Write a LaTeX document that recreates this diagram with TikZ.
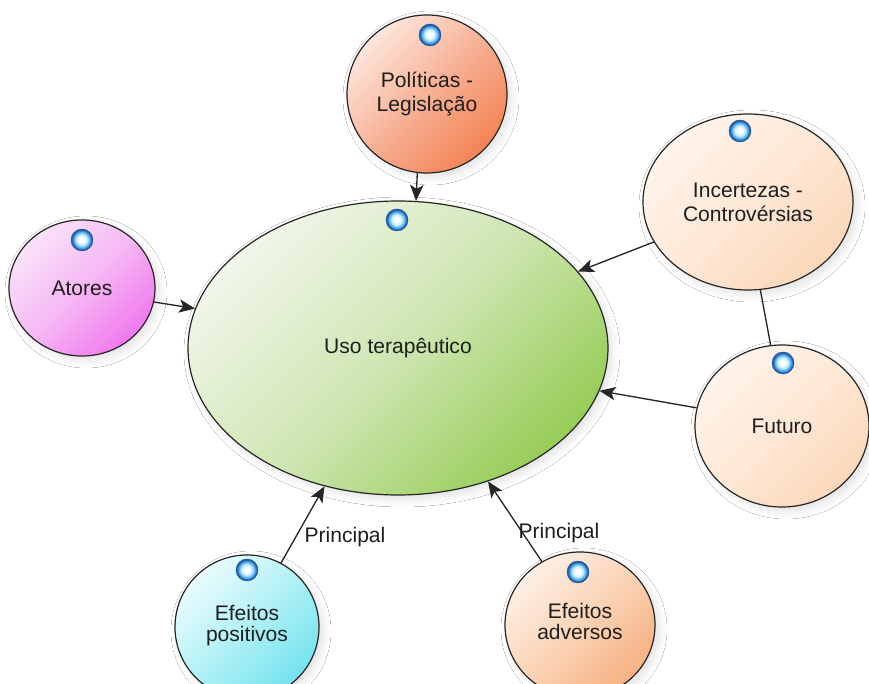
\documentclass[tikz,border=0pt]{standalone}
\usepackage{fontspec}
\setmainfont{Liberation Sans}
\usetikzlibrary{shapes.geometric,arrows.meta,calc,shadows.blur}

% palette
\definecolor{ink}{HTML}{1E1E1E}
\definecolor{rim}{HTML}{262626}
\definecolor{greenA}{HTML}{F1F6EA}
\definecolor{greenM}{HTML}{CFE6B3}
\definecolor{greenB}{HTML}{98CD58}
\definecolor{salmonA}{HTML}{FDE6DC}
\definecolor{salmonM}{HTML}{F7B195}
\definecolor{salmonB}{HTML}{F38354}
\definecolor{peachA}{HTML}{FFF4EB}
\definecolor{peachM}{HTML}{FEE8D6}
\definecolor{peachB}{HTML}{FBD8BA}
\definecolor{pinkA}{HTML}{F9E2F9}
\definecolor{pinkM}{HTML}{F6B8F4}
\definecolor{pinkB}{HTML}{F078EE}
\definecolor{cyanA}{HTML}{EAFCFD}
\definecolor{cyanM}{HTML}{B0F1F6}
\definecolor{cyanB}{HTML}{74E3EE}
\definecolor{orngA}{HTML}{FDF0E6}
\definecolor{orngM}{HTML}{FBD3B5}
\definecolor{orngB}{HTML}{F7B182}
\definecolor{bulbA}{HTML}{C6EEFF}
\definecolor{bulbB}{HTML}{58AEEA}
\definecolor{bulbC}{HTML}{1F64B4}

% glossy marker on each concept
\pgfdeclareradialshading{bulbshade}{\pgfpoint{-1bp}{1bp}}{%
  color(0bp)=(white); color(5bp)=(white); color(12bp)=(bulbA);
  color(18bp)=(bulbB); color(22bp)=(bulbC); color(25bp)=(bulbC);
  color(50bp)=(bulbC)}

\newcommand{\conceptfont}{\fontsize{15.8}{18}\selectfont}

\tikzset{
  concept/.style={ellipse, draw=rim, line width=0.9pt, inner sep=0pt,
    align=center, font=\conceptfont, text=ink,
    blur shadow={shadow xshift=3pt, shadow yshift=-3pt,
      shadow blur radius=6pt, shadow opacity=12}},
  tint/.style n args={3}{top color=#1, bottom color=#3, middle color=#2,
    shading angle=45},
  bulb/.style={circle, minimum size=16.5pt, inner sep=0pt, shade,
    shading=bulbshade, draw=bulbC!70!black, line width=0.3pt},
  arr/.style={draw=rim, line width=1pt,
    -{Stealth[length=12pt, width=10pt, inset=3pt]}},
  link/.style={draw=rim, line width=1pt},
  ghost/.style={draw=none, line width=1pt,
    -{Stealth[length=12pt, width=10pt, inset=3pt, color=gray!16]}},
  lbl/.style={font=\conceptfont, text=ink, inner sep=1pt},
}

\begin{document}
\begin{tikzpicture}[x=0.75pt, y=-0.75pt]
  \fill[white] (0,0) rectangle (869,684);
  \useasboundingbox (0,0) rectangle (869,684);

  % concepts
  \node[concept, tint={greenA}{greenM}{greenB},
        minimum width=315pt, minimum height=220.5pt] (uso) at (398,348)
        {Uso terap\^eutico};
  \node[concept, tint={salmonA}{salmonM}{salmonB},
        minimum width=120pt, minimum height=118.5pt] (pol) at (427,94)
        {Pol\'iticas -\\Legisla\c{c}\~ao};
  \node[concept, tint={peachA}{peachM}{peachB},
        minimum width=157.5pt, minimum height=132pt] (inc) at (748,202)
        {Incertezas -\\Controv\'ersias};
  \node[concept, tint={peachA}{peachM}{peachB},
        minimum width=130.5pt, minimum height=121.5pt] (fut) at (782,426)
        {Futuro};
  \node[concept, tint={pinkA}{pinkM}{pinkB},
        minimum width=109.5pt, minimum height=102pt] (ato) at (82,288)
        {Atores};
  \node[concept, tint={cyanA}{cyanM}{cyanB},
        minimum width=108pt, minimum height=108pt] (pos) at (247,627)
        {\raisebox{6pt}{\shortstack{Efeitos\\[1pt]positivos}}};
  \node[concept, tint={orngA}{orngM}{orngB},
        minimum width=112.5pt, minimum height=109.5pt] (adv) at (580,625)
        {\raisebox{6pt}{\shortstack{Efeitos\\[1pt]adversos}}};

  % markers
  \node[bulb] (buso) at (397,220) {};
  \node[bulb] (bpol) at (430,35) {};
  \node[bulb] (binc) at (740,131) {};
  \node[bulb] (bfut) at (783,363) {};
  \node[bulb] (bato) at (82,240) {};
  \node[bulb] (bpos) at (247,570) {};
  \node[bulb] (badv) at (578,572) {};

  % faint arrowhead shadows
  \draw[ghost] ($(uso.23)!14pt!(inc.203)+(26,15)$) -- ($(uso.23)+(26,15)$);
  \draw[ghost] ($(uso.-12)!14pt!(fut.168)+(27,17)$) -- ($(uso.-12)+(27,17)$);
  \draw[ghost] ($(uso.-118)!14pt!(pos.62)+(13,20)$) -- ($(uso.-118)+(13,20)$);
  \draw[ghost] ($(uso.-56)!14pt!(adv.121)+(23,17)$) -- ($(uso.-56)+(23,17)$);

  % connectors
  \draw[arr] (pol.263) -- (uso.83);
  \draw[arr] (ato.-11) -- (uso.169);
  \draw[arr] (inc.203) -- (uso.23);
  \draw[arr] (fut.168) -- (uso.-12);
  \draw[link] (inc.-82) -- (fut.98);
  \draw[arr] (pos.62) -- (uso.-118);
  \draw[arr] (adv.121) -- (uso.-56);

  % connector labels
  \node[lbl] (lpos) at (345,537) {Principal};
  \node[lbl] (ladv) at (559,533) {Principal};
\end{tikzpicture}
\end{document}
